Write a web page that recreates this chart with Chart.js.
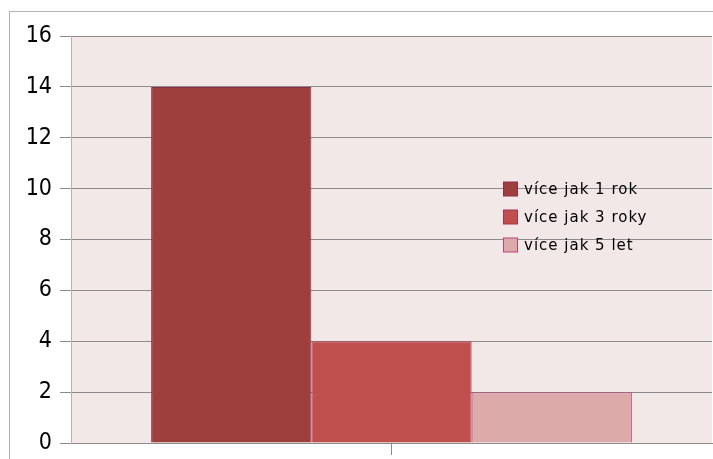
<!DOCTYPE html>
<html lang="cs">
<head>
  <meta charset="UTF-8" />
  <title>více jak</title>
  <script src="https://cdn.jsdelivr.net/npm/chart.js"></script>
  <style>
    body { margin: 0; background: #fff; }
    .wrap { position: relative; width: 713px; height: 459px; }
    .frame {
      position: absolute; left: 9px; top: 11px; right: -2px; bottom: -2px;
      border-left: 1px solid #b4b4b4; border-top: 1px solid #b4b4b4;
      pointer-events: none;
    }
    canvas { position: absolute; left: 0; top: 0; }
  </style>
</head>
<body>
  <div class="wrap">
    <canvas id="chart" width="713" height="459"></canvas>
    <div class="frame"></div>
  </div>

  <script>
    const categories = [''];
    const seriesNames = ['více jak 1 rok', 'více jak 3 roky', 'více jak 5 let'];
    const seriesValues = [[14], [4], [2]];
    const fillColors = ['#9e3f3e', '#c0504d', '#dbaaa9'];
    const edgeColors = ['#8c3048', '#a83450', '#b8447a'];
    const yTicks = [0, 2, 4, 6, 8, 10, 12, 14, 16];

    // pink plot background behind the bars
    const plotBg = {
      id: 'plotBg',
      beforeDraw(chart) {
        const { ctx, chartArea: a } = chart;
        ctx.save();
        ctx.fillStyle = '#f2e8e8';
        ctx.fillRect(a.left, a.top, a.right - a.left, a.bottom - a.top);
        ctx.restore();
      }
    };

    // legend drawn inside the plot, right side
    const innerLegend = {
      id: 'innerLegend',
      afterDraw(chart) {
        const ctx = chart.ctx;
        ctx.save();
        ctx.font = '15px "DejaVu Sans"';
        ctx.letterSpacing = '1px';
        ctx.textBaseline = 'middle';
        chart.data.datasets.forEach((ds, i) => {
          const y = 189 + i * 28;
          ctx.fillStyle = ds.backgroundColor;
          ctx.fillRect(503.5, y - 7, 14, 14);
          ctx.strokeStyle = ds.borderColor;
          ctx.lineWidth = 1;
          ctx.strokeRect(503.5, y - 7, 14, 14);
          ctx.fillStyle = '#000';
          ctx.fillText(ds.label, 524, y + 1);
        });
        ctx.restore();
      }
    };

    new Chart(document.getElementById('chart'), {
      type: 'bar',
      data: {
        labels: categories,
        datasets: seriesNames.map((name, i) => ({
          label: name,
          data: seriesValues[i],
          backgroundColor: fillColors[i],
          borderColor: edgeColors[i],
          borderWidth: 1,
          categoryPercentage: 0.75,
          barPercentage: 1
        }))
      },
      options: {
        responsive: false,
        animation: false,
        layout: { padding: { top: 36, right: 1, left: 0, bottom: 0 } },
        plugins: { legend: { display: false }, tooltip: { enabled: false } },
        scales: {
          x: {
            offset: true,
            grid: {
              offset: false,
              drawOnChartArea: false,
              tickLength: 12,
              color: '#8c8c8c'
            },
            border: { color: '#8c8c8c' },
            ticks: { display: true, font: { size: 1 } },
            afterFit(scale) { scale.height = 16; }
          },
          y: {
            min: 0,
            max: 16,
            afterBuildTicks(scale) { scale.ticks = yTicks.map(v => ({ value: v })); },
            grid: { color: '#8c8c8c', tickLength: 11 },
            border: { color: '#b4b4b4' },
            ticks: {
              color: '#000',
              padding: 8,
              font: { family: '"DejaVu Sans Condensed", "DejaVu Sans"', size: 23 }
            },
            afterFit(scale) {
              scale.width = 71;
              scale.paddingTop = 0;
              scale.paddingBottom = 0;
            }
          }
        }
      },
      plugins: [plotBg, innerLegend]
    });
  </script>
</body>
</html>
